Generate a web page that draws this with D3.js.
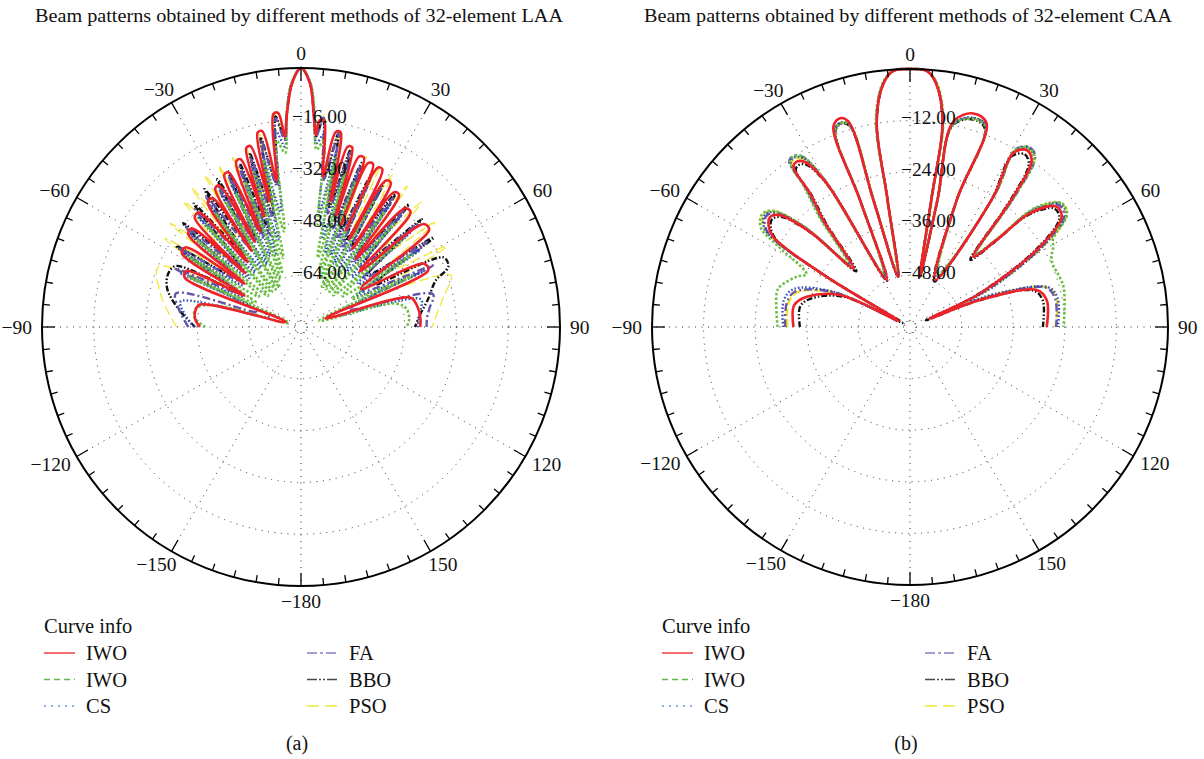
<!DOCTYPE html>
<html><head><meta charset="utf-8">
<script src="https://cdn.jsdelivr.net/npm/d3@7"></script>
<style>body{margin:0;background:#fff}svg{display:block}</style>
</head><body>
<svg id="c" width="1204" height="759"></svg>
<script>
// ---------------- data ----------------
const angleTicks  = [0, 30, 60, 90, 120, 150, 180, -150, -120, -90, -60, -30];
const angleLabels = ["0","30","60","90","120","150","\u2212180","\u2212150","\u2212120","\u221290","\u221260","\u221230"];
const laaRadialTicks = [-16, -32, -48, -64];
const caaRadialTicks = [-12, -24, -36, -48];
const seriesNames = ["IWO", "IWO", "CS", "FA", "BBO", "PSO"];
const chartTitles = ["Beam patterns obtained by different methods of 32-element LAA",
                     "Beam patterns obtained by different methods of 32-element CAA"];
const panelLabels = ["(a)", "(b)"];

// LAA patterns: [angle deg, gain dB]
const laaIWO = [[-90,-48.8],[-86,-47.3],[-81,-47],[-77.5,-48],[-72,-75],[-67,-41],[-64,-40.5],[-61,-60],[-58.3,-36.8],[-55.5,-36.6],[-52.5,-58],[-50.5,-34.8],[-48,-34.5],[-46,-56],[-44.2,-32.9],[-41.8,-32.6],[-39.5,-54],[-36.8,-31.9],[-34.5,-31.7],[-33,-52],[-31.8,-29.7],[-30,-29.5],[-28.5,-50],[-26.8,-27.4],[-25.2,-27.2],[-23.2,-48],[-21.4,-25.1],[-19.8,-24.9],[-18.5,-44],[-17,-22.2],[-15.6,-22],[-14,-40],[-12.6,-18.5],[-11.2,-18.3],[-9.5,-34],[-7.4,-13.7],[-6.1,-13.5],[-4.8,-21],[-3.9,-14.9],[-2.1,-4.7],[0,0],[2.1,-4.7],[3.5,-14.9],[4.4,-20.5],[5.1,-16],[6.4,-15.8],[8.3,-33],[10.1,-18.8],[11.5,-18.6],[13.2,-40],[14.5,-22.5],[15.9,-22.3],[17.5,-44],[18.8,-24.4],[20.4,-24.2],[21.5,-46],[22.3,-25.2],[23.9,-25],[25,-47],[25.7,-25.4],[27.3,-25.2],[28.8,-49],[30.1,-27.7],[31.9,-27.5],[33.4,-51],[34.6,-29.4],[36.6,-29.2],[38.8,-53],[41.3,-31.2],[43.7,-31],[46.5,-55],[50,-30.5],[52.8,-30.3],[57.5,-58],[62.8,-37.2],[66,-37],[70.5,-72],[75,-45],[80,-43.5],[86,-43],[90,-43.2]];
const laaIWO2 = [[-90,-50.4],[-85,-47],[-80,-47],[-76,-52],[-72,-76],[-66,-42],[-62,-64],[-58,-39],[-54,-64],[-50,-38],[-46.5,-66],[-43,-37],[-40,-66],[-37,-36],[-34,-66],[-31,-35],[-28.5,-66],[-26,-34],[-23.5,-64],[-21,-32],[-19,-62],[-17,-30],[-14.5,-58],[-12.5,-27],[-10,-50],[-7.5,-22],[-5.2,-26],[-3.9,-14],[-2.2,-4.5],[0,0],[2.2,-4.5],[3.7,-14],[5,-25],[7,-22],[9.2,-48],[11.5,-27],[13.5,-58],[16,-30],[18.3,-62],[20.5,-32],[22.5,-64],[25,-34],[27.5,-66],[30,-35],[33,-66],[36,-36],[39,-66],[42,-37],[45.5,-66],[49,-38],[53,-64],[57,-39],[61,-62],[65.5,-42],[71,-74],[76,-50],[80,-47],[86,-46.5],[90,-47.4]];
const laaCS = [[-90,-47],[-84,-44],[-78,-42],[-72,-70],[-66,-39],[-62,-60],[-58,-37],[-54,-58],[-50,-35],[-46.5,-58],[-43,-33.5],[-40,-58],[-37,-32.5],[-34,-58],[-31,-32],[-28.5,-58],[-26,-31],[-23.5,-56],[-21,-29.5],[-19,-56],[-17,-28],[-14.5,-52],[-12.5,-25],[-10,-44],[-7.3,-19],[-5.1,-24],[-3.9,-14.5],[-2.2,-4.6],[0,0],[2.2,-4.6],[3.6,-14.5],[4.8,-23],[6.8,-20],[9,-44],[11.3,-25],[13.4,-52],[15.8,-28],[18.2,-56],[20.4,-30],[22.4,-56],[25,-31],[27.4,-58],[30,-32],[33,-58],[36,-33],[39,-58],[42,-34],[45.5,-58],[49,-35],[53,-58],[57,-36],[61,-60],[65.5,-38],[71,-70],[77,-42],[83,-43],[90,-44]];
const laaFA = [[-90,-45.2],[-82,-42],[-75,-40],[-71,-66],[-65,-37],[-61,-58],[-57,-34.8],[-53,-56],[-49,-32.5],[-45.5,-54],[-42,-31],[-39,-52],[-36,-30],[-33,-50],[-30.5,-29],[-28,-50],[-25.5,-28],[-23,-50],[-21,-27],[-18.5,-50],[-16.5,-25],[-14,-46],[-12,-21],[-9.6,-36],[-7,-15],[-4.9,-22],[-3.8,-14],[-2.1,-4.6],[0,0],[2.1,-4.6],[3.6,-14],[4.5,-21],[6.2,-15],[8.6,-34],[11,-19],[13.2,-44],[15.7,-24],[18,-48],[20.3,-27],[22.3,-50],[25,-29],[27.3,-52],[30,-30],[32.5,-52],[35.5,-31],[38.5,-54],[41.5,-31.5],[45,-54],[48.5,-32],[52,-56],[56,-33],[60,-58],[65,-35],[70,-64],[76,-38],[82,-40],[86,-41],[90,-41.2]];
const laaBBO = [[-90,-47.3],[-82,-42],[-74,-37],[-68,-35.8],[-64,-37],[-61,-56],[-57,-34],[-53,-54],[-48.6,-31.5],[-45,-52],[-41,-29.5],[-38,-50],[-35,-28],[-32.3,-48],[-29.5,-27.5],[-27,-48],[-25,-27],[-22.5,-48],[-20.5,-26],[-18.3,-48],[-16.4,-24],[-14,-44],[-12,-20],[-9.6,-35],[-6.9,-14.5],[-4.9,-21.5],[-3.9,-14.5],[-2.1,-4.6],[0,0],[2.1,-4.6],[3.5,-14.5],[4.5,-21],[6.1,-15],[8.6,-34],[10.9,-19],[13.1,-42],[15.6,-23],[17.9,-46],[20.2,-26],[22.2,-48],[24.8,-27.5],[27.2,-50],[29.8,-28.5],[32.3,-50],[35.3,-29],[38.3,-52],[41.3,-29.5],[44.8,-52],[48.3,-30],[52,-54],[56,-30.5],[60,-54],[64,-31],[67.7,-30.8],[71,-36],[78,-40],[84,-43],[90,-44.8]];
const laaPSO = [[-90,-41.6],[-78,-36],[-67.1,-32.2],[-62,-52],[-57,-30],[-53,-50],[-51.6,-28.4],[-47,-48],[-43,-27],[-40,-46],[-38.2,-25.5],[-35,-46],[-32.3,-24.5],[-29.5,-46],[-27,-24],[-24.5,-46],[-22,-23.5],[-19.5,-44],[-17,-22],[-14.5,-42],[-12.2,-19],[-9.8,-34],[-7,-14],[-4.9,-21],[-3.8,-14],[-2.1,-4.6],[0,0],[2.1,-4.6],[3.5,-14],[4.5,-20],[6.3,-14],[8.8,-33],[11.2,-18.5],[13.5,-42],[16,-22],[18.5,-44],[21,-23.5],[23.5,-46],[26,-24.5],[28.5,-46],[31,-25],[34,-46],[37,-25.5],[40.5,-48],[44,-26.5],[48,-48],[52,-27.5],[56.5,-50],[61,-28.5],[66,-52],[71,-31],[78,-35],[85,-38],[90,-39.5]];

// CAA patterns: [angle deg, gain dB]
const caaIWO = [[-90,-32.9],[-79.3,-32.6],[-73.7,-35],[-65.4,-42.1],[-62,-57],[-58.9,-37.4],[-56.6,-21.9],[-53.8,-19.2],[-51.8,-18.6],[-49.3,-20.1],[-46.4,-27.9],[-44,-41],[-39,-28],[-36.8,-21.2],[-36,-13.9],[-34.4,-13.4],[-32.5,-14.5],[-30.1,-21.4],[-26.4,-47.8],[-21.5,-28.3],[-20.9,-10.1],[-18.5,-8.8],[-16.7,-10.1],[-16.1,-29.3],[-13.4,-48],[-10,-30],[-9.2,-11.6],[-6.2,-3],[-3.7,-0.3],[0,0],[3.7,-0.3],[6.1,-3],[9,-11.6],[9.5,-30],[11.2,-48],[12.2,-29.8],[11.9,-11.2],[16.5,-8.2],[20.6,-9.4],[20.2,-28.5],[28,-47.6],[32.6,-24],[30.7,-13],[33.4,-10.7],[36.1,-12],[38.4,-21.3],[42,-38],[44.9,-31.4],[46.5,-21.6],[50.6,-15.9],[54,-16.4],[58.3,-24.5],[64.3,-41.9],[67,-55],[68.9,-42.6],[73.7,-29.3],[78.8,-27.6],[90,-28.2]];
const caaIWO2 = [[-90,-29.2],[-75.8,-28],[-72.8,-28.3],[-66,-31.2],[-63,-33],[-58.5,-24],[-56.5,-18.5],[-54,-17],[-52,-16.8],[-49.5,-18.5],[-46.5,-26],[-44,-39],[-39.5,-27],[-37,-19],[-36,-12.5],[-34.4,-12],[-32.3,-13],[-30.3,-20],[-26.4,-46],[-21.5,-28],[-20.8,-11],[-18.5,-10],[-16.6,-11],[-16,-29],[-13.4,-47],[-10.1,-29],[-9.3,-11],[-6.3,-2.8],[-3.7,-0.3],[0,0],[3.7,-0.3],[6.2,-2.8],[9.1,-11],[9.6,-29],[11.2,-47],[12.2,-29.5],[11.9,-12],[16.5,-9.5],[20.6,-10.2],[20.2,-28],[28,-46],[32.6,-23],[30.7,-12.2],[33.4,-10],[36.3,-11],[38.6,-20.5],[42,-37],[44.9,-30],[46.3,-20],[50.6,-14.5],[54.3,-15],[58.5,-21],[60.7,-21.8],[64.7,-23.6],[75.3,-23.1],[90,-24.3]];
const caaCS = [[-90,-30.5],[-78,-30],[-72,-31.5],[-65.5,-40],[-62,-55],[-58.8,-36],[-56.5,-20],[-54,-17.8],[-52,-17.4],[-49.4,-19],[-46.4,-27],[-44,-40],[-39.2,-27.5],[-36.9,-20],[-36,-12.8],[-34.4,-12.3],[-32.4,-13.4],[-30.2,-20.5],[-26.4,-47],[-21.5,-28.5],[-20.8,-11],[-18.5,-9.8],[-16.6,-11],[-16,-29.5],[-13.4,-48],[-10,-29.5],[-9.2,-11.3],[-6.2,-2.9],[-3.7,-0.3],[0,0],[3.7,-0.3],[6.1,-2.9],[9,-11.3],[9.5,-29.5],[11.2,-48],[12.2,-29.5],[11.9,-11.8],[16.5,-9.2],[20.6,-10],[20.2,-28],[28,-47],[32.6,-23.2],[30.7,-12.3],[33.4,-10.1],[36.2,-11.2],[38.5,-20.8],[42,-37.5],[44.9,-30.5],[46.4,-20.5],[50.6,-14.8],[54.2,-15.3],[58.4,-23],[64,-38],[66.5,-45],[69,-38],[74,-26.5],[79,-25],[90,-25.6]];
const caaFA = [[-90,-31],[-79,-30.8],[-73,-32],[-65.5,-40.5],[-62,-55],[-58.8,-36.5],[-56.5,-20.5],[-54,-18.2],[-52,-17.8],[-49.4,-19.3],[-46.4,-27.2],[-44,-40],[-39.2,-27],[-36.9,-19.5],[-36.1,-12.3],[-34.4,-11.8],[-32.4,-13],[-30.2,-20],[-26.4,-46.5],[-21.5,-28.4],[-20.9,-11],[-18.5,-9.9],[-16.7,-11],[-16.1,-29.4],[-13.4,-48],[-10,-29.8],[-9.2,-11.4],[-6.2,-2.9],[-3.7,-0.3],[0,0],[3.7,-0.3],[6.1,-2.9],[9,-11.4],[9.5,-29.8],[11.2,-48],[12.2,-29.6],[11.9,-12],[16.5,-9.3],[20.6,-10],[20.2,-28.2],[28,-46.5],[32.6,-23],[30.7,-12],[33.4,-9.8],[36.3,-10.8],[38.6,-20.3],[42,-37.5],[44.9,-31],[46.4,-21],[50.6,-15.3],[54.2,-15.8],[58.4,-23.5],[64,-39.5],[67,-52],[69,-40],[74,-27],[79,-25.6],[90,-26]];
const caaBBO = [[-90,-34.4],[-79.5,-34],[-74,-36],[-65.5,-43],[-62,-58],[-59,-38],[-56.7,-22.5],[-53.8,-19.8],[-51.8,-19.3],[-49.3,-20.8],[-46.4,-28.5],[-44,-42],[-39,-29],[-36.8,-22],[-36,-14.8],[-34.4,-14.3],[-32.5,-15.3],[-30.1,-22],[-26.4,-48],[-21.5,-29],[-20.8,-11.2],[-18.5,-10.1],[-16.7,-11.2],[-16.1,-29.8],[-13.4,-48],[-10,-30],[-9.2,-11.7],[-6.2,-3],[-3.7,-0.3],[0,0],[3.7,-0.3],[6.1,-3],[9,-11.7],[9.5,-30],[11.2,-48],[12.2,-30],[11.9,-12.2],[16.5,-9.6],[20.6,-10.6],[20.2,-29],[28,-48],[32.6,-24.8],[30.7,-14],[33.4,-11.8],[36,-13],[38.3,-22],[42,-39],[44.9,-32],[46.5,-22.2],[50.6,-16.6],[53.9,-17],[58.2,-25],[64.3,-42.5],[67,-56],[68.9,-43],[73.7,-30],[78.8,-28.5],[90,-29.1]];
const caaPSO = [[-90,-31.5],[-79,-31.2],[-73,-32.5],[-65.5,-40.8],[-62,-55],[-58.8,-36],[-56.5,-20],[-54,-17.5],[-52,-17],[-49.4,-18.6],[-46.4,-26.8],[-44,-40],[-39.2,-27.4],[-36.9,-20.2],[-36,-13],[-34.4,-12.6],[-32.4,-13.8],[-30.2,-20.8],[-26.4,-47],[-21.5,-28.6],[-20.8,-11],[-18.5,-9.9],[-16.6,-11],[-16,-29.5],[-13.4,-48],[-10,-29.8],[-9.2,-11.4],[-6.2,-2.9],[-3.7,-0.3],[0,0],[3.7,-0.3],[6.1,-2.9],[9,-11.4],[9.5,-29.8],[11.2,-48],[12.2,-29.6],[11.9,-12],[16.5,-9.4],[20.6,-10.2],[20.2,-28.3],[28,-47],[32.6,-23.3],[30.7,-12.4],[33.4,-10.2],[36.2,-11.4],[38.5,-21],[42,-37.5],[44.9,-30.2],[46.4,-20.2],[50.6,-14.6],[54.2,-15],[58.4,-22.8],[64,-38.5],[66.8,-48],[69,-39],[74,-26.8],[79,-25.3],[90,-26.2]];

const laaSeries = [laaIWO, laaIWO2, laaCS, laaFA, laaBBO, laaPSO];
const caaSeries = [caaIWO, caaIWO2, caaCS, caaFA, caaBBO, caaPSO];

// ---------------- styles ----------------
const plotStyles = [
  {color:"#ee2229", width:2.6, dash:null},
  {color:"#6cbf43", width:2.6, dash:"2.5,2"},
  {color:"#2f4fb5", width:2.4, dash:"1.6,2"},
  {color:"#6656aa", width:2.4, dash:"8,3,2,3"},
  {color:"#111111", width:2.4, dash:"6,2,1.5,2,1.5,2"},
  {color:"#f2e62a", width:1.2, dash:"10,4"}
];
const legendStyles = [
  {color:"#f04a4a", width:1.6, dash:null},
  {color:"#63b84b", width:1.6, dash:"6,4"},
  {color:"#6f9be0", width:1.6, dash:"2,5"},
  {color:"#8a7cc0", width:1.6, dash:"10,3,3,3"},
  {color:"#4a4a4a", width:1.6, dash:"10,2,2,2,2,2"},
  {color:"#eee636", width:1.6, dash:"12,6"}
];
const drawOrder = [5, 4, 3, 2, 1, 0];
const FONT = "'Liberation Serif', 'Times New Roman', serif";

const svg = d3.select("#c");

function drawChart(cfg) {
  const g = svg.append("g").attr("transform", `translate(${cfg.cx},${cfg.cy})`);
  const r = d3.scaleLinear().domain([cfg.dbMin, 0]).range([0, cfg.R]);
  const rad = d => d * Math.PI / 180;
  const dotted = sel => sel.attr("fill", "none").attr("stroke", "#333").attr("stroke-width", 1).attr("stroke-dasharray", "1,5.5");

  g.selectAll(".gc").data(cfg.radialTicks).join("circle").attr("r", d => r(d)).call(dotted);
  g.append("circle").attr("r", 6).call(dotted);
  g.selectAll(".sp").data(d3.range(0, 360, 30)).join("line")
    .attr("x1", d => 6 * Math.sin(rad(d))).attr("y1", d => -6 * Math.cos(rad(d)))
    .attr("x2", d => cfg.R * Math.sin(rad(d))).attr("y2", d => -cfg.R * Math.cos(rad(d)))
    .call(dotted);

  const line = d3.lineRadial()
    .angle(d => rad(d[0]))
    .radius(d => r(d[1]))
    .curve(d3.curveCatmullRom.alpha(0.5));
  drawOrder.forEach(i => {
    const st = cfg.styles[i];
    g.append("path").datum(cfg.series[i]).attr("d", line)
      .attr("fill", "none").attr("stroke", st.color).attr("stroke-width", st.width)
      .attr("stroke-dasharray", st.dash).attr("stroke-linejoin", "round");
  });

  g.append("circle").attr("r", cfg.R).attr("fill", "none").attr("stroke", "#000").attr("stroke-width", 2);
  g.selectAll(".tk").data(d3.range(0, 360, 5)).join("line")
    .attr("x1", d => cfg.R * Math.sin(rad(d))).attr("y1", d => -cfg.R * Math.cos(rad(d)))
    .attr("x2", d => (cfg.R - (d % 30 === 0 ? 13 : 7)) * Math.sin(rad(d)))
    .attr("y2", d => -(cfg.R - (d % 30 === 0 ? 13 : 7)) * Math.cos(rad(d)))
    .attr("stroke", "#000").attr("stroke-width", 1.3);

  angleTicks.forEach((a, i) => {
    const t = g.append("text").text(angleLabels[i]).attr("font-family", FONT).attr("font-size", 19.5)
      .attr("text-anchor", "middle").attr("dominant-baseline", "central").attr("fill", "#111");
    const w = t.node().getComputedTextLength();
    const s = Math.sin(rad(a)), c = Math.cos(rad(a));
    t.attr("x", (cfg.R + 10) * s + s * w / 2).attr("y", -(cfg.R + 10) * c - c * 5);
  });

  g.selectAll(".rl").data(cfg.radialTicks).join("text")
    .attr("x", -9).attr("y", d => -r(d) - 3)
    .attr("dominant-baseline", "central").attr("font-family", FONT).attr("font-size", 19.5).attr("fill", "#111")
    .text(d => "\u2212" + Math.abs(d).toFixed(2));

  svg.append("text").attr("x", cfg.cx - 2).attr("y", 15).attr("text-anchor", "middle").attr("dominant-baseline", "central")
    .attr("font-family", FONT).attr("font-size", 19).attr("fill", "#111")
    .attr("textLength", 528).attr("lengthAdjust", "spacingAndGlyphs").text(cfg.title);

  const lg = svg.append("g").attr("transform", `translate(${cfg.lx},0)`);
  lg.append("text").attr("x", 0).attr("y", 626).attr("dominant-baseline", "central")
    .attr("font-family", FONT).attr("font-size", 20.5).attr("fill", "#111").text("Curve info");
  seriesNames.forEach((n, i) => {
    const col = Math.floor(i / 3), row = i % 3;
    const x0 = col * 263, y0 = 653 + row * 26.5;
    const st = legendStyles[i];
    lg.append("line").attr("x1", x0).attr("x2", x0 + 31).attr("y1", y0).attr("y2", y0)
      .attr("stroke", st.color).attr("stroke-width", st.width).attr("stroke-dasharray", st.dash);
    lg.append("text").attr("x", x0 + 42).attr("y", y0).attr("dominant-baseline", "central")
      .attr("font-family", FONT).attr("font-size", 20.5).attr("fill", "#111").text(n);
  });
  svg.append("text").attr("x", cfg.cx - 4).attr("y", 743).attr("text-anchor", "middle").attr("dominant-baseline", "central")
    .attr("font-family", FONT).attr("font-size", 20).attr("fill", "#111").text(cfg.panel);
}

drawChart({cx:301, cy:327, R:259, dbMin:-80, radialTicks:laaRadialTicks, series:laaSeries,
  styles:plotStyles, title:chartTitles[0], panel:panelLabels[0], lx:44});
drawChart({cx:910, cy:327, R:258, dbMin:-60, radialTicks:caaRadialTicks, series:caaSeries,
  styles:plotStyles.map((s,i)=> i===5 ? Object.assign({}, s, {width:2.4, dash:"8,3"}) : s),
  title:chartTitles[1], panel:panelLabels[1], lx:662});
</script>
</body></html>
